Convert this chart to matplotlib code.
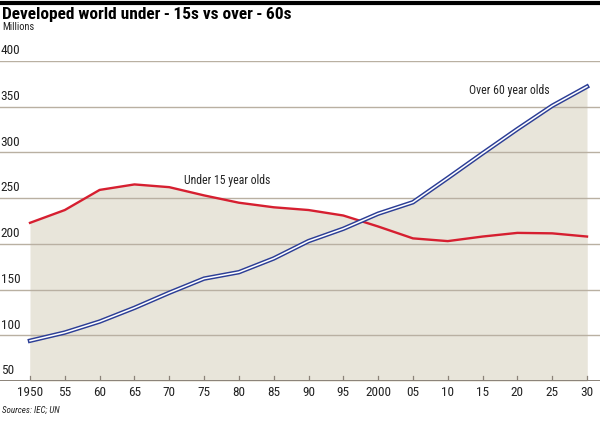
import matplotlib
matplotlib.use("Agg")
import matplotlib.pyplot as plt
from matplotlib import font_manager

years = [1950, 1955, 1960, 1965, 1970, 1975, 1980, 1985, 1990, 1995,
         2000, 2005, 2010, 2015, 2020, 2025, 2030]
under15 = [223, 237, 259, 265, 262, 253, 245, 240, 237, 231,
           219, 206, 203, 208, 212, 211.5, 208]
over60 = [94, 103, 115, 130, 146.5, 162, 169, 184, 203, 216.5,
          233, 245.5, 272, 299, 325.5, 351, 372]
xtick_labels = ["1950", "55", "60", "65", "70", "75", "80", "85", "90", "95",
                "2000", "05", "10", "15", "20", "25", "30"]
yticks = [50, 100, 150, 200, 250, 300, 350, 400]

# pick a narrow face if one is installed
names = {f.name for f in font_manager.fontManager.ttflist}
fam = [n for n in ["Roboto Condensed", "Liberation Sans Narrow", "Open Sans Condensed",
                   "DejaVu Sans Condensed", "Roboto"] if n in names][0]
plt.rcParams['font.family'] = [fam, 'DejaVu Sans']

W, H = 600, 421
fig = plt.figure(figsize=(W / 100, H / 100), dpi=100)

# axes spans full width; map 1950 -> 30px, 2030 -> 587px
ppy = (587 - 30) / 80
x0 = 1950 - 30 / ppy
x1 = 2030 + (W - 587) / ppy
y_bot, y_top = 381, 61
ax = fig.add_axes([0, (H - y_bot) / H, 1, (y_bot - y_top) / H])
ax.set_xlim(x0, x1)
ax.set_ylim(50, 400)

fill_c = "#e8e5da"
grid_c = "#b9b0a2"
ax.fill_between(years, 50, under15, color=fill_c, lw=0, zorder=1)
ax.fill_between(years, 50, over60, color=fill_c, lw=0, zorder=1)

for v in yticks[1:]:
    ax.axhline(v, color=grid_c, lw=1.0, zorder=2)
    ax.text(x0 + 0.1, v + 4, str(v), fontsize=9.5, color="#222222",
            ha="left", va="bottom")
ax.axhline(50, color="#8a8278", lw=1.4, zorder=3)
ax.text(x0 + 0.1, 54, "50", fontsize=9.5, color="#222222", ha="left", va="bottom")

ax.plot(years, under15, color="#d61f30", lw=1.7, zorder=4, solid_joinstyle="round")
ax.plot(years, over60, color="#2c3e96", lw=3.2, zorder=5, solid_joinstyle="round")
ax.plot(years, over60, color="white", lw=1.1, zorder=6, solid_joinstyle="round")

for yr, lab in zip(years, xtick_labels):
    ax.plot([yr, yr], [50, 56], color="#8a8278", lw=0.9, zorder=3)
    ax.text(yr, 44, lab, fontsize=9.5, color="#222222", ha="center", va="top")

ax.text(1978.3, 269, "Under 15 year olds", fontsize=8.5, color="#222222",
        ha="center", va="center")
ax.text(2018.9, 368, "Over 60 year olds", fontsize=8.5, color="#222222",
        ha="center", va="center")

for s in ax.spines.values():
    s.set_visible(False)
ax.set_xticks([])
ax.set_yticks([])
ax.patch.set_alpha(0)

# top rule, title, subtitle, source
fig.add_artist(plt.Line2D([0, 1], [1 - 3 / H, 1 - 3 / H], color="black", lw=3))
fig.text(2 / W, 1 - 14 / H, "Developed world under\u2009-\u200915s vs over\u2009-\u200960s",
         fontsize=12.5, fontweight="bold", ha="left", va="center")
fig.text(2 / W, 1 - 27 / H, "Millions", fontsize=7.5, ha="left", va="center",
         color="#222222")
fig.text(2 / W, 1 - 410 / H, "Sources: IEC; UN", fontsize=6.5, style="italic",
         ha="left", va="center", color="#222222")

fig.savefig("out.png", dpi=100)
